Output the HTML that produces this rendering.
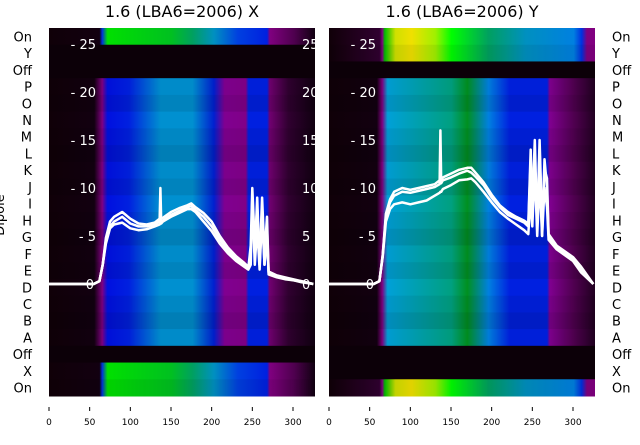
<!DOCTYPE html>
<html><head><meta charset="utf-8"><style>
body{margin:0;background:#fff;font-family:"Liberation Sans","DejaVu Sans",sans-serif}
svg text{font-family:"DejaVu Sans","Liberation Sans",sans-serif}
</style></head><body>
<svg id="c" width="640" height="440" xmlns="http://www.w3.org/2000/svg">
<defs>
<linearGradient id="gMainX" x1="0" x2="1"><stop offset="0" stop-color="#100008"/><stop offset="0.17" stop-color="#120010"/><stop offset="0.2" stop-color="#800080"/><stop offset="0.22" stop-color="#0010e0"/><stop offset="0.3" stop-color="#0020e0"/><stop offset="0.42" stop-color="#0090d0"/><stop offset="0.54" stop-color="#0090d0"/><stop offset="0.62" stop-color="#0020d0"/><stop offset="0.66" stop-color="#800090"/><stop offset="0.74" stop-color="#800088"/><stop offset="0.75" stop-color="#0020e0"/><stop offset="0.82" stop-color="#0020e0"/><stop offset="0.83" stop-color="#700070"/><stop offset="0.9" stop-color="#300030"/><stop offset="1" stop-color="#100010"/></linearGradient>
<linearGradient id="gOnX" x1="0" x2="1"><stop offset="0" stop-color="#100008"/><stop offset="0.19" stop-color="#120010"/><stop offset="0.2" stop-color="#0030e0"/><stop offset="0.22" stop-color="#00e000"/><stop offset="0.46" stop-color="#00c020"/><stop offset="0.54" stop-color="#00a060"/><stop offset="0.62" stop-color="#0090c0"/><stop offset="0.71" stop-color="#0040e0"/><stop offset="0.82" stop-color="#0020e0"/><stop offset="0.83" stop-color="#800080"/><stop offset="0.92" stop-color="#500050"/><stop offset="1" stop-color="#100010"/></linearGradient>
<linearGradient id="gMainY" x1="0" x2="1"><stop offset="0" stop-color="#100008"/><stop offset="0.18" stop-color="#120010"/><stop offset="0.2" stop-color="#800080"/><stop offset="0.22" stop-color="#00a0d8"/><stop offset="0.46" stop-color="#00a080"/><stop offset="0.52" stop-color="#009020"/><stop offset="0.6" stop-color="#0080e0"/><stop offset="0.68" stop-color="#0020e0"/><stop offset="0.82" stop-color="#0020e0"/><stop offset="0.83" stop-color="#800090"/><stop offset="0.92" stop-color="#500050"/><stop offset="1" stop-color="#200020"/></linearGradient>
<linearGradient id="gOnY" x1="0" x2="1"><stop offset="0" stop-color="#100008"/><stop offset="0.19" stop-color="#300030"/><stop offset="0.2" stop-color="#800080"/><stop offset="0.21" stop-color="#00c000"/><stop offset="0.25" stop-color="#d0e000"/><stop offset="0.31" stop-color="#f0e000"/><stop offset="0.4" stop-color="#a0f000"/><stop offset="0.46" stop-color="#00ff00"/><stop offset="0.6" stop-color="#00a060"/><stop offset="0.74" stop-color="#0090c0"/><stop offset="0.92" stop-color="#0080e0"/><stop offset="0.95" stop-color="#0030e0"/><stop offset="0.97" stop-color="#800080"/><stop offset="1" stop-color="#800080"/></linearGradient>
</defs>
</svg>
<script>
const rowLabels=["On","Y","Off","P","O","N","M","L","K","J","I","H","G","F","E","D","C","B","A","Off","X","On"];
const rowFillX=["gOnX","dark","dark","gMainX","gMainX","gMainX","gMainX","gMainX","gMainX","gMainX","gMainX","gMainX","gMainX","gMainX","gMainX","gMainX","gMainX","gMainX","gMainX","dark","gOnX","gOnX"];
const rowFillY=["gOnY","gOnY","dark","gMainY","gMainY","gMainY","gMainY","gMainY","gMainY","gMainY","gMainY","gMainY","gMainY","gMainY","gMainY","gMainY","gMainY","gMainY","gMainY","dark","dark","gOnY"];
const xTicks=[0,50,100,150,200,250,300];
const yTicks=[0,5,10,15,20,25];
const freqs=[0,55,62,66,70,75,80,90,100,110,120,130,136,137,138,140,150,160,170,175,180,190,200,210,220,230,240,245,248,250,253,256,259,262,265,268,270,280,290,300,310,325];
const xSeries=[
[0,0,0.3,2,4.5,6,6.5,7,6.3,6,6,6.2,6.5,10,6.5,6.6,7.2,7.6,8,8.1,7.7,7,6,4.6,3.5,2.6,2,1.6,4,10,4,8,2,9,3,7,1.2,0.8,0.6,0.4,0.3,0],
[0,0,0.3,2,4.2,5.8,6.2,6.4,5.8,5.6,5.7,6,6.2,6.3,6.3,6.5,7,7.4,7.8,7.8,7.5,6.5,5.5,4.2,3.2,2.4,1.8,1.5,2,9,2,6,1.5,7,2,5,1,0.7,0.5,0.4,0.2,0],
[0,0,0.3,2,4.8,6.5,7,7.5,6.8,6.3,6.2,6.4,6.8,6.8,6.8,6.9,7.5,7.9,8.2,8.4,8,7.4,6.5,5,3.8,2.9,2.2,1.8,3,8,3,9,2,8,2,6,1.3,0.9,0.7,0.5,0.3,0]];
const ySeries=[
[0,0,0.3,3,7,8.5,9.2,9.6,9.5,9.7,9.9,10.1,10.4,16,10.5,10.8,11.1,11.5,11.8,11.6,11.2,10.3,9,8,7.2,6.8,6.4,6,13,8,15,6,14,5,13,10,5,3.8,3.2,2.6,1.5,0],
[0,0,0.3,2.8,6.5,7.8,8.3,8.5,8.3,8.5,8.7,9.2,9.5,9.6,9.6,9.9,10.3,10.8,10.9,11,10.6,9.6,8.5,7.5,6.8,6.2,5.6,5.2,9,6,12,5,11,5,10,8,4.6,3.6,3,2.4,1.2,0],
[0,0,0.3,3,7.3,8.8,9.6,10,9.8,10,10.2,10.4,10.8,10.8,10.8,11.1,11.5,11.9,12.1,12.1,11.6,10.6,9.3,8.2,7.5,7,6.6,6.3,14,7,13,6,15,6,12,11,5.2,4,3.4,2.8,1.8,0]];

const svg=document.getElementById('c');const NS='http://www.w3.org/2000/svg';
function el(t,a,p){const e=document.createElementNS(NS,t);for(const k in a)e.setAttribute(k,a[k]);(p||svg).appendChild(e);return e;}
const plotTop=28,plotBot=396,rh=(plotBot-plotTop)/rowLabels.length;
const panels=[{x0:49,title:"1.6 (LBA6=2006) X",fills:rowFillX,series:xSeries,name:'x',rightLabels:true},{x0:329,title:"1.6 (LBA6=2006) Y",fills:rowFillY,series:ySeries,name:'y',rightLabels:false}];
const xs=0.8133,W=266;
function yv(v){return 284-v*9.6;}
panels.forEach(p=>{
 const g=el('g',{});
 
 
 p.fills.forEach((f,i)=>{
  const r=el('rect',{x:p.x0,y:plotTop+i*rh,width:W,height:rh+0.5,fill:f==='dark'?'#0c0008':'url(#'+f+')'},g);
  
  
  if(f!=='dark'){el('rect',{x:p.x0,y:plotTop+i*rh,width:W,height:rh+0.5,fill:'#000',opacity:0.12*((i*7)%5)/4},g);}
 });
 const t=el('text',{x:p.x0+W/2,y:17,'text-anchor':'middle','font-size':16,fill:'#000'},g);t.textContent=p.title;
 
 
 xTicks.forEach(v=>{const x=p.x0+v*xs;el('line',{x1:x,x2:x,y1:407,y2:411,stroke:'#000','stroke-width':1},g);
  const l=el('text',{x:x,y:425,'text-anchor':'middle','font-size':9,fill:'#000'},g);l.textContent=v;
  
  });
 const cp=el('clipPath',{id:'cp'+p.name},g);el('rect',{x:p.x0,y:plotTop,width:W,height:plotBot-plotTop},cp);
 yTicks.forEach(v=>{const y=yv(v);
  const l=el('text',{x:p.x0+47,y:y+5,'text-anchor':'end','font-size':13,fill:'#fff'},g);l.textContent=(v===0?'':'- ')+v;
  if(v===0)l.setAttribute('x',p.x0+45);
  
  
  if(p.rightLabels){
  const r=el('text',{x:p.x0+W-13,y:y+5,'text-anchor':'start','font-size':13,fill:'#fff','clip-path':'url(#cp'+p.name+')'},g);r.textContent=v;
  
  }});
 p.series.forEach((s,k)=>{
  const d=s.map((v,i)=>(i?'L':'M')+(p.x0+freqs[i]*xs).toFixed(1)+' '+yv(v).toFixed(1)).join(' ');
  const pa=el('path',{d:d,fill:'none',stroke:'#fff','stroke-width':2.5,'stroke-linejoin':'round'},g);
  
  
 });
});
rowLabels.forEach((lab,i)=>{const y=plotTop+(i+0.5)*rh+5;
 const a=el('text',{x:32,y:y,'text-anchor':'end','font-size':13,fill:'#000'});a.textContent=lab;
 
 
 const b=el('text',{x:612,y:y,'text-anchor':'start','font-size':13,fill:'#000'});b.textContent=lab;
 
 });
const yt=el('text',{x:4,y:215,'text-anchor':'middle','font-size':13,fill:'#000',transform:'rotate(-90 4 215)'});yt.textContent='Dipole';


</script>
</body></html>
